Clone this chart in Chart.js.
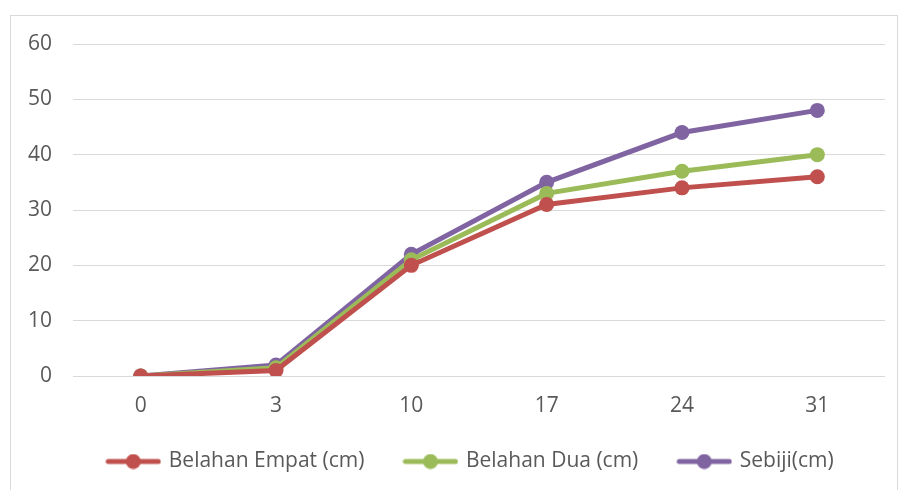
<!DOCTYPE html>
<html>
<head>
<meta charset="utf-8">
<script src="https://cdn.jsdelivr.net/npm/chart.js@4"></script>
<style>
  body { margin: 0; background: #fff; }
  #box {
    position: absolute; left: 10px; top: 15px;
    width: 886px; height: 480px;
    border: 1px solid #d9d9d9;
  }
</style>
</head>
<body>
<div id="box"><canvas id="growthChart" width="886" height="480"></canvas></div>
<script>
const days = ['0', '3', '10', '17', '24', '31'];
const belahanEmpat = [0, 1, 20, 31, 34, 36];
const belahanDua = [0, 1.5, 21, 33, 37, 40];
const sebiji = [0, 2, 22, 35, 44, 48];

const colors = ['#C0504D', '#9BBB59', '#8064A2'];
const font = { family: 'Open Sans', size: 21 };

// legend marker: short line with a dot in the middle
function marker(color) {
  const c = document.createElement('canvas');
  c.width = 56; c.height = 16;
  const g = c.getContext('2d');
  g.strokeStyle = color; g.lineWidth = 5; g.lineCap = 'round';
  g.beginPath(); g.moveTo(3, 8); g.lineTo(53, 8); g.stroke();
  g.fillStyle = color;
  g.beginPath(); g.arc(28, 8, 7.5, 0, Math.PI * 2); g.fill();
  return c;
}

const makeSet = (label, data, color) => ({
  label: label,
  data: data,
  borderColor: color,
  backgroundColor: color,
  borderWidth: 5,
  pointRadius: 7.5,
  pointHoverRadius: 7.5,
  pointBorderWidth: 0,
  pointStyle: 'circle',
  tension: 0
});

// nudge the legend a bit right and up, like the original
const legendNudge = {
  id: 'legendNudge',
  afterLayout(chart) {
    const lg = chart.legend;
    lg.left += 23; lg.right += 23;
    lg.top -= 9; lg.bottom -= 9;
  }
};

const ctx = document.getElementById('growthChart').getContext('2d');
new Chart(ctx, {
  type: 'line',
  data: {
    labels: days,
    datasets: [
      makeSet('Belahan Empat (cm)', belahanEmpat, colors[0]),
      makeSet('Belahan Dua (cm)', belahanDua, colors[1]),
      makeSet('Sebiji(cm)', sebiji, colors[2])
    ]
  },
  plugins: [legendNudge],
  options: {
    responsive: false,
    animation: false,
    layout: { padding: { top: 28, right: 12, left: 0, bottom: 5 } },
    plugins: {
      tooltip: { enabled: false },
      legend: {
        position: 'bottom',
        labels: {
          usePointStyle: true,
          pointStyleWidth: 50,
          padding: 41,
          color: '#595959',
          font: font,
          generateLabels: chart => chart.data.datasets.map((ds, i) => ({
            text: ds.label,
            fillStyle: colors[i],
            strokeStyle: colors[i],
            lineWidth: 0,
            pointStyle: marker(colors[i]),
            fontColor: '#595959',
            datasetIndex: i
          }))
        }
      }
    },
    scales: {
      x: {
        offset: true,
        grid: { display: false, drawTicks: false },
        border: { display: false },
        ticks: { color: '#595959', font: font, padding: 17 },
        afterFit: scale => { scale.height = 43; }
      },
      y: {
        min: 0,
        max: 60,
        ticks: { stepSize: 10, color: '#595959', font: font, padding: 21 },
        grid: { color: '#d9d9d9', lineWidth: 1, drawTicks: false },
        border: { display: false },
        afterFit: scale => {
          scale.width = 62;
          scale.paddingTop = 0;
          scale.paddingBottom = 0;
        }
      }
    }
  }
});
</script>
</body>
</html>
